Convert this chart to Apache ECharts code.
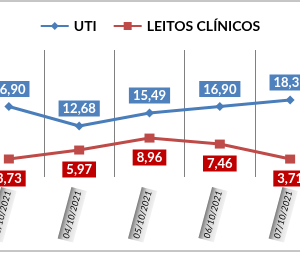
<!DOCTYPE html>
<html><head><meta charset="utf-8">
<script src="https://cdn.jsdelivr.net/npm/echarts@6/dist/echarts.min.js"></script>
<style>html,body{margin:0;padding:0;background:#fff}#c{width:300px;height:253px}</style>
</head><body><div id="c"></div>
<script>
const categories = ['03/10/2021','04/10/2021','05/10/2021','06/10/2021','07/10/2021'];
const uti = [16.90, 12.68, 15.49, 16.90, 18.31];
const leitos = [3.73, 5.97, 8.96, 7.46, 3.71];
const seriesNames = ['UTI', 'LEITOS CLÍNICOS'];

const fmt = p => p.value.toFixed(2).replace('.', ',');
const chart = echarts.init(document.getElementById('c'), null, {renderer:'canvas'});
chart.setOption({
  animation: false,
  graphic: [{type:'rect', shape:{x:-5, y:1, width:310, height:250}, style:{fill:'none', stroke:'#8c8c8c', lineWidth:1}, silent:true}],
  legend: {
    top: 14, left: 'center', itemWidth: 28, itemHeight: 10, itemGap: 16,
    textStyle: {fontFamily: 'Lato', fontWeight: 'bold', fontSize: 14, color: '#000'},
    data: seriesNames
  },
  grid: {left: -26.3, right: -25.3, top: 50, bottom: 76, containLabel: false, outerBoundsMode: 'none'},
  xAxis: {
    type: 'category', data: categories, boundaryGap: true,
    axisLine: {show: false}, axisTick: {show: false},
    splitLine: {show: true, lineStyle: {color: '#808080', width: 1}},
    axisLabel: {
      interval: 0, rotate: 75, margin: 12, fontFamily: 'Lato', fontStyle: 'italic', fontSize: 9, color: '#000',
      padding: [4, 2, 3, 2],
      backgroundColor: new echarts.graphic.LinearGradient(0, 0, 0, 1, [
        {offset: 0, color: '#7a7a7a'}, {offset: 0.35, color: '#d4d4d4'}, {offset: 1, color: '#f2f2f2'}])
    }
  },
  yAxis: [
    {type: 'value', show: false, min: 1.64, max: 29.13, splitLine: {show: false}},
    {type: 'value', show: false, min: -0.77, max: 30.98, splitLine: {show: false}}
  ],
  series: [
    {
      name: seriesNames[0], type: 'line', yAxisIndex: 0, data: uti,
      symbol: 'diamond', symbolSize: 9,
      lineStyle: {color: '#4a7ebb', width: 3}, itemStyle: {color: '#4a7ebb'},
      label: {show: true, position: 'top', distance: 5, formatter: fmt,
        color: '#fff', fontFamily: 'Lato', fontWeight: 'bold', fontSize: 13,
        backgroundColor: '#4f81bd', padding: [2, 4, 1, 4]}
    },
    {
      name: seriesNames[1], type: 'line', yAxisIndex: 1, data: leitos,
      symbol: 'rect', symbolSize: [10, 9],
      lineStyle: {color: '#be4b48', width: 3}, itemStyle: {color: '#be4b48'},
      label: {show: true, position: 'bottom', distance: 7, formatter: fmt,
        color: '#fff', fontFamily: 'Lato', fontWeight: 'bold', fontSize: 13,
        backgroundColor: '#c00000', padding: [2, 4, 1, 4]}
    }
  ]
});
</script></body></html>
